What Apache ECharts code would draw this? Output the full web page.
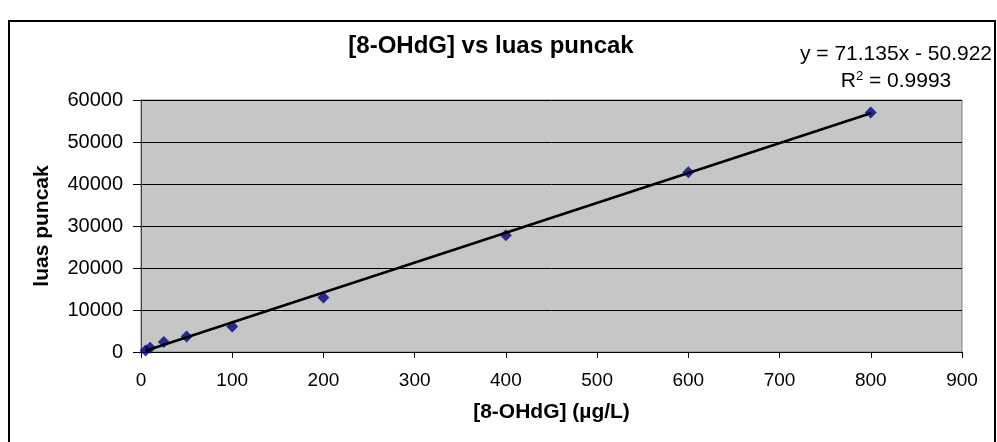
<!DOCTYPE html>
<html>
<head>
<meta charset="utf-8">
<script src="https://cdn.jsdelivr.net/npm/echarts@6/dist/echarts.min.js"></script>
<style>
html,body{margin:0;padding:0;background:#fff;}
#c{width:997px;height:442px;}
</style>
</head>
<body>
<div id="c"></div>
<script>
const concentrations = [5, 10, 25, 50, 100, 200, 400, 600, 800];
const peakAreas = [350, 1000, 2400, 3700, 6100, 13000, 27800, 42800, 57000];
const xTicks = [0, 100, 200, 300, 400, 500, 600, 700, 800, 900];
const yTicks = [0, 10000, 20000, 30000, 40000, 50000, 60000];
const slope = 71.135;
const intercept = -50.922;
const rSquared = 0.9993;
const titleText = '[8-OHdG] vs luas puncak';
const xName = '[8-OHdG] (\u00b5g/L)';
const yName = 'luas puncak';

const xMin = Math.min(...concentrations), xMax = Math.max(...concentrations);
const trend = [[xMin, slope * xMin + intercept], [xMax, slope * xMax + intercept]];

const chart = echarts.init(document.getElementById('c'), null, {renderer: 'canvas'});
const font = 'Liberation Sans, Arial, sans-serif';
chart.setOption({
  animation: false,
  backgroundColor: '#ffffff',
  graphic: [
    {type: 'rect', shape: {x: 9, y: 21, width: 986, height: 430}, style: {fill: 'none', stroke: '#000', lineWidth: 2}, z: 100},
    {type: 'text', x: 491, y: 46, style: {text: titleText, font: 'bold 24px ' + font, fill: '#000', align: 'center', verticalAlign: 'middle'}},
    {type: 'text', x: 896, y: 54, style: {text: 'y = ' + slope.toFixed(3) + 'x - ' + Math.abs(intercept).toFixed(3), font: '21px ' + font, fill: '#000', align: 'center', verticalAlign: 'middle'}},
    {type: 'text', x: 896, y: 81, style: {rich: {n: {fontSize: 21, fontFamily: font, color: '#000'}, s: {fontSize: 13, fontFamily: font, color: '#000', verticalAlign: 'top', padding: [0, 0, 10, 0]}}, text: '{n|R}{s|2}{n| = ' + rSquared.toFixed(4) + '}', align: 'center', verticalAlign: 'middle'}}
  ],
  grid: {left: 141, right: 35, top: 100, bottom: 90, show: true, backgroundColor: '#c6c6c6', borderColor: '#808080', borderWidth: 1},
  xAxis: {
    type: 'value', min: xTicks[0], max: xTicks[xTicks.length - 1], interval: 100,
    name: xName, nameLocation: 'middle', nameGap: 50,
    nameTextStyle: {fontFamily: font, fontSize: 21, fontWeight: 'bold', color: '#000'},
    axisLine: {show: true, lineStyle: {color: '#000', width: 1}},
    axisTick: {show: true, length: 6, lineStyle: {color: '#000'}},
    axisLabel: {fontFamily: font, fontSize: 19, color: '#000', margin: 19, formatter: v => String(v)},
    splitLine: {show: false}
  },
  yAxis: {
    type: 'value', min: yTicks[0], max: yTicks[yTicks.length - 1], interval: 10000,
    name: yName, nameLocation: 'middle', nameGap: 88, nameRotate: 90,
    nameTextStyle: {fontFamily: font, fontSize: 21, fontWeight: 'bold', color: '#000'},
    axisLine: {show: true, lineStyle: {color: '#404040', width: 1}},
    axisTick: {show: true, length: 8, lineStyle: {color: '#000'}},
    axisLabel: {fontFamily: font, fontSize: 20, color: '#000', margin: 18, formatter: v => String(v)},
    splitLine: {show: true, lineStyle: {color: '#000', width: 1}}
  },
  series: [
    {
      type: 'line', data: trend, showSymbol: false, symbol: 'none',
      lineStyle: {color: '#000', width: 2.5}, z: 3, silent: true
    },
    {
      type: 'scatter', data: concentrations.map((x, i) => [x, peakAreas[i]]),
      symbol: 'diamond', symbolSize: 12,
      itemStyle: {color: '#000080'}, z: 2
    }
  ]
});
</script>
</body>
</html>
